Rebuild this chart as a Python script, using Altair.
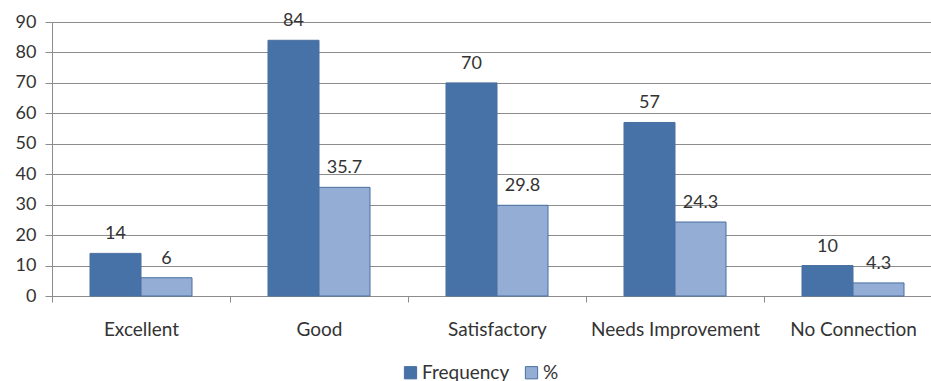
import altair as alt
import pandas as pd

categories = ["Excellent", "Good", "Satisfactory", "Needs Improvement", "No Connection"]
series_names = ["Frequency", "%"]
frequency = [14, 84, 70, 57, 10]
percent = [6, 35.7, 29.8, 24.3, 4.3]
freq_labels = ["14", "84", "70", "57", "10"]
pct_labels = ["6", "35.7", "29.8", "24.3", "4.3"]
colors = ["#4672a8", "#94add5"]
y_ticks = [0, 10, 20, 30, 40, 50, 60, 70, 80, 90]

rows = []
for c, f, p, lf, lp in zip(categories, frequency, percent, freq_labels, pct_labels):
    rows.append({"category": c, "series": "Frequency", "value": f, "label": lf})
    rows.append({"category": c, "series": "%", "value": p, "label": lp})
df = pd.DataFrame(rows)

FONT = "Lato"

x = alt.X(
    "category:N",
    sort=categories,
    scale=alt.Scale(paddingInner=0, paddingOuter=0, range=[0, 890]),
    axis=alt.Axis(
        title=None,
        tickBand="extent",
        labelAngle=0,
        labelFontSize=19,
        labelPadding=18,
        tickSize=6,
        labelColor="#333333",
        domainColor="#8c8c8c",
        tickColor="#8c8c8c",
        labelFont=FONT,
        grid=False,
    ),
)
xo = alt.XOffset(
    "series:N",
    sort=series_names,
    scale=alt.Scale(paddingInner=0, paddingOuter=0.745),
)
y = alt.Y(
    "value:Q",
    scale=alt.Scale(domain=[0, 90], nice=False),
    axis=alt.Axis(
        title=None,
        values=y_ticks,
        labelFontSize=18,
        labelPadding=9,
        tickSize=7,
        labelColor="#333333",
        domainColor="#8c8c8c",
        tickColor="#8c8c8c",
        gridColor="#8c8c8c",
        labelFont=FONT,
    ),
)
color = alt.Color(
    "series:N",
    sort=series_names,
    scale=alt.Scale(domain=series_names, range=colors),
    legend=alt.Legend(
        title=None,
        orient="none",
        direction="horizontal",
        legendX=349,
        legendY=341,
        symbolType="square",
        symbolSize=150,
        symbolStrokeColor="#4a6fa0",
        symbolStrokeWidth=1,
        labelFontSize=19,
        labelOffset=2,
        labelFont=FONT,
        labelColor="#333333",
        columnPadding=12,
        symbolOpacity=1,
    ),
)

bars = alt.Chart(df).mark_bar(stroke="#4a6fa0", strokeWidth=1).encode(
    x=x, xOffset=xo, y=y, color=color
)
text = alt.Chart(df).mark_text(
    baseline="alphabetic", dy=-14, fontSize=18, font=FONT, color="#333333"
).encode(x=x, xOffset=xo, y=y, text="label:N")

chart = (
    alt.layer(bars, text)
    .properties(
        width=879,
        height=274,
        autosize=alt.AutoSizeParams(type="none"),
        padding={"left": 52, "top": 22, "right": 0, "bottom": 85},
    )
    .configure_view(fill="#e7eaf1", stroke=None)
    .configure(background="white")
)

chart.save("out.html", embed_options={"renderer": "svg", "actions": False})
